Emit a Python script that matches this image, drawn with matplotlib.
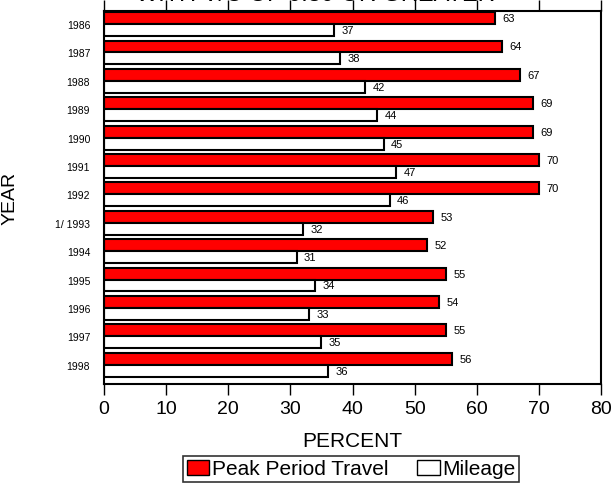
import matplotlib.pyplot as plt
import numpy as np
from matplotlib.patches import Patch

plt.rcParams["font.family"] = ["Liberation Sans", "DejaVu Sans"]

years = ["1986", "1987", "1988", "1989", "1990", "1991", "1992",
         "1/ 1993", "1994", "1995", "1996", "1997", "1998"]
peak = [63, 64, 67, 69, 69, 70, 70, 53, 52, 55, 54, 55, 56]
mileage = [37, 38, 42, 44, 45, 47, 46, 32, 31, 34, 33, 35, 36]

fig = plt.figure(figsize=(6.13, 4.89), dpi=100)
ax = fig.add_axes([104/613, 1-385/489, (601-104)/613, (385-12)/489])

y = np.arange(len(years))
h = 0.42
ax.barh(y - h/2, peak, height=h, color="#ff0000", edgecolor="black", linewidth=1.5)
ax.barh(y + h/2, mileage, height=h, color="white", edgecolor="black", linewidth=1.5)

for i in range(len(years)):
    ax.text(peak[i] + 1.2, y[i] - h/2, str(peak[i]), fontsize=8, va="center")
    ax.text(mileage[i] + 1.2, y[i] + h/2, str(mileage[i]), fontsize=8, va="center")

ax.set_xlim(0, 80)
ax.set_ylim(12.68, -0.46)
ax.set_xticks(range(0, 81, 10))
ax.set_yticks(y)
ax.set_yticklabels(years, fontsize=7.5)
ax.tick_params(axis="y", length=0, pad=10)
ax.tick_params(axis="x", labelsize=14, direction="out", length=8, width=1, top=True)
for s in ax.spines.values():
    s.set_linewidth(1.5)

ax.set_xlabel("PERCENT", fontsize=15, labelpad=10)
ax.set_ylabel("YEAR", fontsize=14, labelpad=26)

# title mostly cut off at the top of the page
fig.text(0.515, 1 - 1/489, "WITH V/C OF 0.80 OR GREATER", fontsize=17,
         ha="center", va="baseline")

handles = [Patch(facecolor="#ff0000", edgecolor="black", linewidth=1),
           Patch(facecolor="white", edgecolor="black", linewidth=1)]
leg = fig.legend(handles, ["Peak Period Travel", "Mileage"], ncol=2,
                 loc="center", bbox_to_anchor=(351/613, 1-470/489),
                 fontsize=15, frameon=True, fancybox=False, handlelength=1.1,
                 handleheight=0.7, handletextpad=0.1, columnspacing=1.4,
                 borderpad=0.15, borderaxespad=0)
leg.get_frame().set_edgecolor("black")
leg.get_frame().set_linewidth(1.2)

fig.savefig("out.png", dpi=100)
